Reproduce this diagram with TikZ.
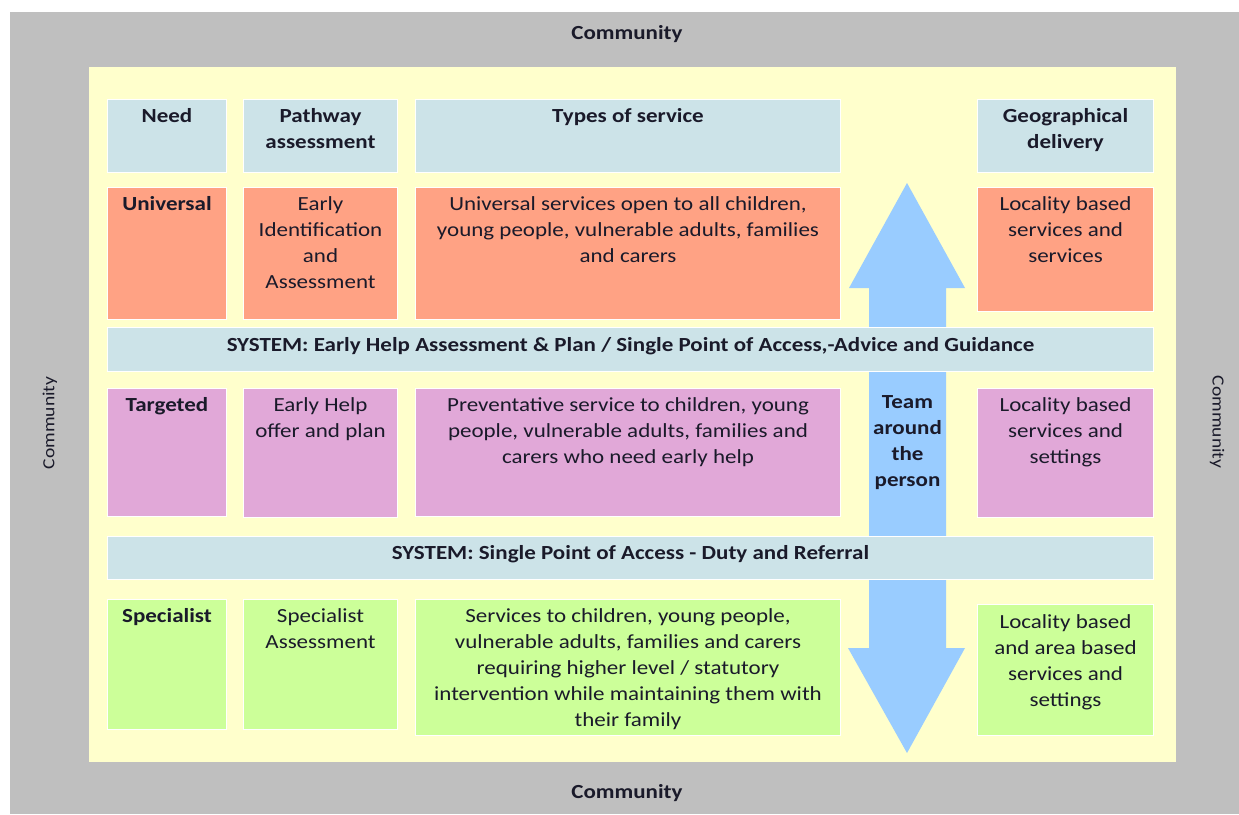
\documentclass[tikz,border=0pt]{standalone}
\usepackage{fontspec}
\setmainfont{Carlito}[FakeStretch=1.15]
\usetikzlibrary{calc}
\definecolor{cgrey}{HTML}{BFBFBF}
\definecolor{cyellow}{HTML}{FFFFCC}
\definecolor{cblue}{HTML}{CCE3E8}
\definecolor{csalmon}{HTML}{FFA284}
\definecolor{cpink}{HTML}{E1A8D8}
\definecolor{cgreen}{HTML}{CCFF99}
\definecolor{carrow}{HTML}{99CCFF}
\definecolor{ctext}{HTML}{1A1A2A}
\newcommand{\fsz}{\fontsize{20}{26}\selectfont}
\begin{document}
\begin{tikzpicture}[x=1pt,y=-1pt,
  box/.style={draw=white, line width=1pt, anchor=north west, inner sep=0pt},
  plain/.style={align=center, inner sep=0pt, font=\fsz, text=ctext},
  txt/.style={plain, anchor=north},
  btxt/.style={txt, font=\fsz\bfseries}]
\useasboundingbox (0,0) rectangle (1239,814);
\fill[cgrey] (10,12) rectangle (1239,814);
\fill[cyellow] (89,67) rectangle (1176,762);
% labels Community
\node[btxt] (ctop) at (627,20.8) {\strut Community};
\node[btxt] (cbot) at (627,779.8) {\strut Community};
\node[plain, font=\fontsize{17}{20}\selectfont, rotate=90] (cleft) at (50,423) {Community};
\node[plain, font=\fontsize{17}{20}\selectfont, rotate=-90] (cright) at (1217,422) {Community};
% arrow
\fill[carrow] (907,183) -- (965,288) -- (946,288) -- (946,648) -- (965,648) -- (907,753) -- (848,648) -- (869,648) -- (869,288) -- (849,288) -- cycle;
\coordinate (tap) at (907.5,389.8);
\node[btxt] (team) at (tap) {\strut Team\\around\\the\\person};
% headers
\node[box, fill=cblue, minimum width=119, minimum height=73] (need) at (107,99) {};
\node[box, fill=cblue, minimum width=154, minimum height=73] (path) at (243,99) {};
\node[box, fill=cblue, minimum width=425, minimum height=73] (types) at (415,99) {};
\node[box, fill=cblue, minimum width=176, minimum height=73] (geo) at (977,99) {};
% universal
\node[box, fill=csalmon, minimum width=119, minimum height=132] (univ) at (107,187) {};
\node[box, fill=csalmon, minimum width=154, minimum height=132] (eia) at (243,187) {};
\node[box, fill=csalmon, minimum width=425, minimum height=132] (usvc) at (415,187) {};
\node[box, fill=csalmon, minimum width=176, minimum height=124] (uloc) at (977,187) {};
% system 1
\node[box, fill=cblue, minimum width=1046, minimum height=44] (sys1) at (107,327) {};
% targeted
\node[box, fill=cpink, minimum width=119, minimum height=128] (targ) at (107,388) {};
\node[box, fill=cpink, minimum width=154, minimum height=129] (ehop) at (243,388) {};
\node[box, fill=cpink, minimum width=425, minimum height=128] (tsvc) at (415,388) {};
\node[box, fill=cpink, minimum width=176, minimum height=129] (tloc) at (977,388) {};
% system 2
\node[box, fill=cblue, minimum width=1046, minimum height=43] (sys2) at (107,536) {};
% specialist
\node[box, fill=cgreen, minimum width=119, minimum height=130] (spec) at (107,599) {};
\node[box, fill=cgreen, minimum width=154, minimum height=130] (sass) at (243,599) {};
\node[box, fill=cgreen, minimum width=425, minimum height=136] (ssvc) at (415,599) {};
\node[box, fill=cgreen, minimum width=176, minimum height=131] (sloc) at (977,604) {};
% texts
\node[btxt] (need-t) at ($(need.north)+(0,5.5)$) {\strut Need};
\node[btxt] (path-t) at ($(path.north)+(0,5.5)$) {\strut Pathway\\assessment};
\node[btxt] (types-t) at ($(types.north)+(0,5.5)$) {\strut Types of service};
\node[btxt] (geo-t) at ($(geo.north)+(0,5.5)$) {\strut Geographical\\delivery};
\node[btxt] (univ-t) at ($(univ.north)+(0,5)$) {\strut Universal};
\node[txt] (eia-t) at ($(eia.north)+(0,5)$) {\strut Early\\Identification\\and\\Assessment};
\node[txt] (usvc-t) at ($(usvc.north)+(0,5)$) {\strut Universal services open to all children,\\young people, vulnerable adults, families\\and carers};
\node[txt] (uloc-t) at ($(uloc.north)+(0,5)$) {\strut Locality based\\services and\\services};
\node[btxt] (sys1-t) at ($(sys1.north)+(0,6)$) {\strut SYSTEM: Early Help Assessment \& Plan / Single Point of Access,-Advice and Guidance};
\node[btxt] (targ-t) at ($(targ.north)+(0,5)$) {\strut Targeted};
\node[txt] (ehop-t) at ($(ehop.north)+(0,5)$) {\strut Early Help\\offer and plan};
\node[txt] (tsvc-t) at ($(tsvc.north)+(0,5)$) {\strut Preventative service to children, young\\people, vulnerable adults, families and\\carers who need early help};
\node[txt] (tloc-t) at ($(tloc.north)+(0,5)$) {\strut Locality based\\services and\\settings};
\node[btxt] (sys2-t) at ($(sys2.north)+(0,4.6)$) {\strut SYSTEM: Single Point of Access - Duty and Referral};
\node[btxt] (spec-t) at ($(spec.north)+(0,5)$) {\strut Specialist};
\node[txt] (sass-t) at ($(sass.north)+(0,5)$) {\strut Specialist\\Assessment};
\node[txt] (ssvc-t) at ($(ssvc.north)+(0,5)$) {\strut Services to children, young people,\\vulnerable adults, families and carers\\requiring higher level / statutory\\intervention while maintaining them with\\their family};
\node[txt] (sloc-t) at ($(sloc.north)+(0,6)$) {\strut Locality based\\and area based\\services and\\settings};
\end{tikzpicture}
\end{document}
